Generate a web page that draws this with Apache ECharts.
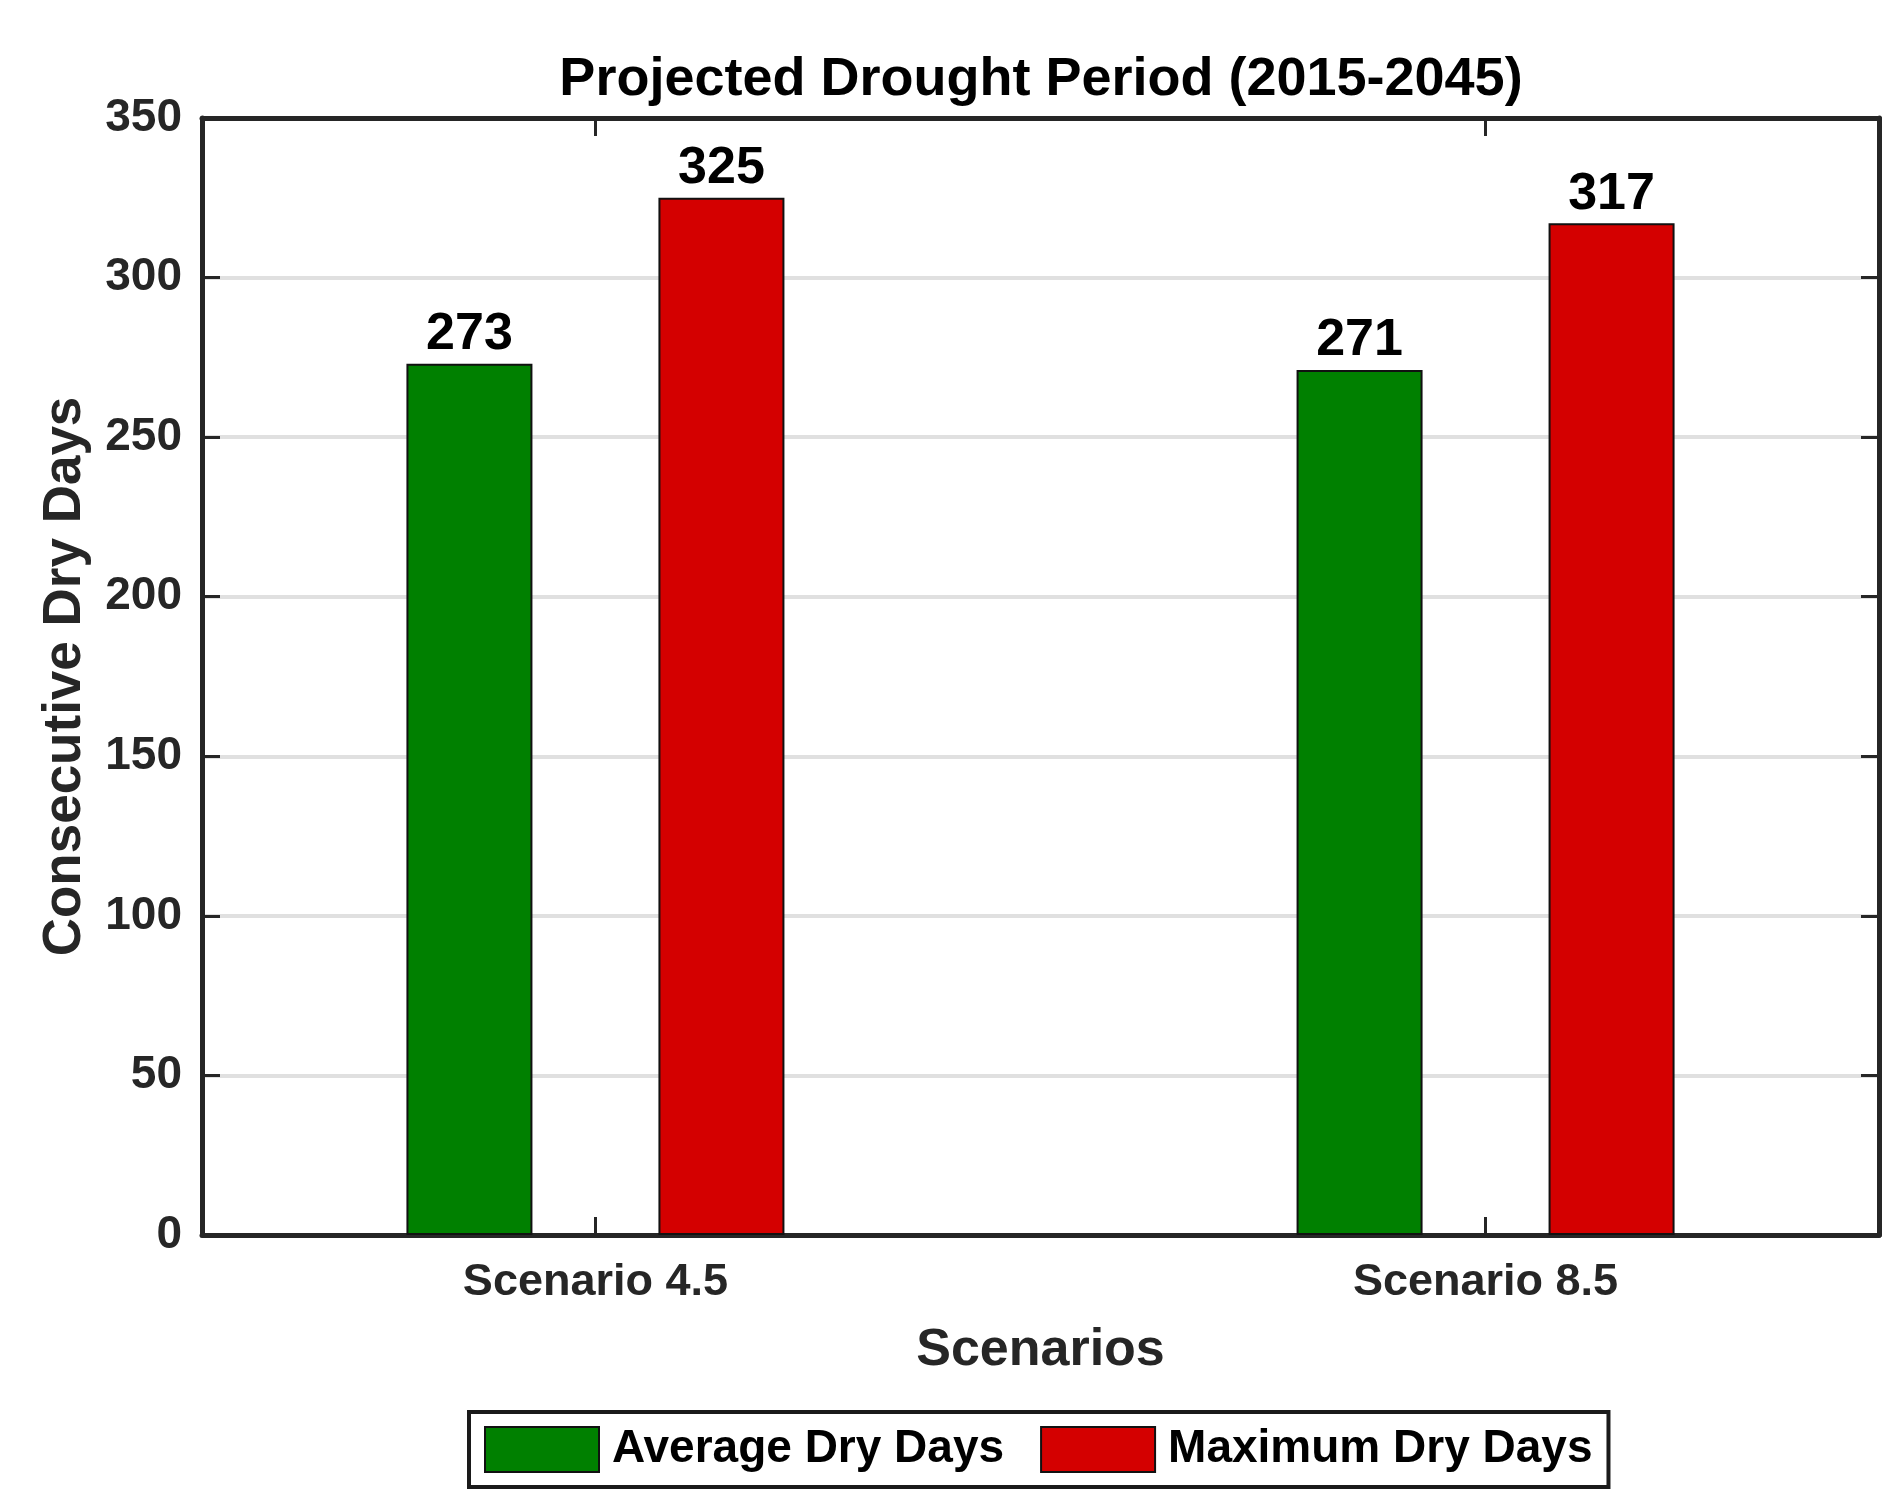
<!DOCTYPE html>
<html>
<head>
<meta charset="utf-8">
<script src="https://cdn.jsdelivr.net/npm/echarts@6/dist/echarts.min.js"></script>
<style>
html, body { margin: 0; padding: 0; background: #fff; }
#chart { width: 1899px; height: 1510px; }
</style>
</head>
<body>
<div id="chart"></div>
<script type="text/javascript">
var categories = ['Scenario 4.5', 'Scenario 8.5'];
var avgDays = [273, 271];
var maxDays = [325, 317];
var yTicks = [0, 350, 50];   // min, max, step

var font = '"Liberation Sans", Arial, Helvetica, sans-serif';
var axisGray = '#262626';

// bars sit at x = 1, 2 on a value axis so the side margins can match the original
var catPos = categories.map(function (c, i) { return i + 1; });
function pairs(vals) {
    return vals.map(function (v, i) { return [catPos[i], v]; });
}

var myChart = echarts.init(document.getElementById('chart'));

var xBase = {
    type: 'value',
    min: 0.558,
    max: 2.442,
    splitLine: { show: false },
    axisLine: { show: true, onZero: false, lineStyle: { color: axisGray, width: 5 } },
    axisTick: { show: true, inside: true, length: 18, customValues: catPos, lineStyle: { color: axisGray, width: 3 } }
};
var yBase = {
    type: 'value',
    min: yTicks[0],
    max: yTicks[1],
    interval: yTicks[2],
    axisLine: { show: true, lineStyle: { color: axisGray, width: 5 } },
    axisTick: { show: true, inside: true, length: 18, lineStyle: { color: axisGray, width: 3 } }
};

var option = {
    backgroundColor: '#fff',
    animation: false,
    title: {
        text: 'Projected Drought Period (2015-2045)',
        left: 1036,
        textAlign: 'center',
        top: 48,
        textStyle: { fontFamily: font, fontSize: 54, fontWeight: 'bold', color: '#000' }
    },
    legend: {
        left: 469,
        top: 1412,
        orient: 'horizontal',
        itemWidth: 114,
        itemHeight: 45,
        itemGap: 36,
        padding: [14, 16, 14, 15],
        borderColor: '#1a1a1a',
        borderWidth: 4,
        icon: 'rect',
        textStyle: { fontFamily: font, fontSize: 46, fontWeight: 'bold', color: '#000', padding: [0, 0, 0, 8] },
        data: ['Average Dry Days', 'Maximum Dry Days']
    },
    grid: { left: 202, top: 118, width: 1677, height: 1117, containLabel: false },
    xAxis: [
        Object.assign({}, xBase, {
            position: 'bottom',
            name: 'Scenarios',
            nameLocation: 'middle',
            nameGap: 90,
            nameTextStyle: { fontFamily: font, fontSize: 52, fontWeight: 'bold', color: axisGray },
            axisLabel: {
                show: true,
                margin: 25,
                customValues: catPos,
                fontFamily: font, fontSize: 45, fontWeight: 'bold', color: axisGray,
                formatter: function (v) { return categories[Math.round(v) - 1] || ''; }
            }
        }),
        Object.assign({}, xBase, {
            position: 'top',
            axisLabel: { show: false }
        })
    ],
    yAxis: [
        Object.assign({}, yBase, {
            position: 'left',
            name: 'Consecutive Dry Days',
            nameLocation: 'middle',
            nameGap: 110,
            nameTextStyle: { fontFamily: font, fontSize: 53, fontWeight: 'bold', color: axisGray },
            axisLabel: { show: true, margin: 20, fontFamily: font, fontSize: 46, fontWeight: 'bold', color: axisGray },
            splitLine: { show: true, lineStyle: { color: '#e0e0e0', width: 4 } }
        }),
        Object.assign({}, yBase, {
            position: 'right',
            axisLabel: { show: false },
            splitLine: { show: false }
        })
    ],
    series: [
        {
            name: 'Average Dry Days',
            type: 'bar',
            xAxisIndex: 0,
            yAxisIndex: 0,
            barWidth: 126,
            barGap: '100%',
            itemStyle: { color: '#008000', borderColor: '#111', borderWidth: 2 },
            label: { show: true, position: 'top', distance: 3, fontFamily: font, fontSize: 52, fontWeight: 'bold', color: '#000' },
            data: pairs(avgDays)
        },
        {
            name: 'Maximum Dry Days',
            type: 'bar',
            xAxisIndex: 0,
            yAxisIndex: 0,
            barWidth: 126,
            barGap: '100%',
            itemStyle: { color: '#d40000', borderColor: '#111', borderWidth: 2 },
            label: { show: true, position: 'top', distance: 3, fontFamily: font, fontSize: 52, fontWeight: 'bold', color: '#000' },
            data: pairs(maxDays)
        }
    ]
};
myChart.setOption(option);
</script>
</body>
</html>
